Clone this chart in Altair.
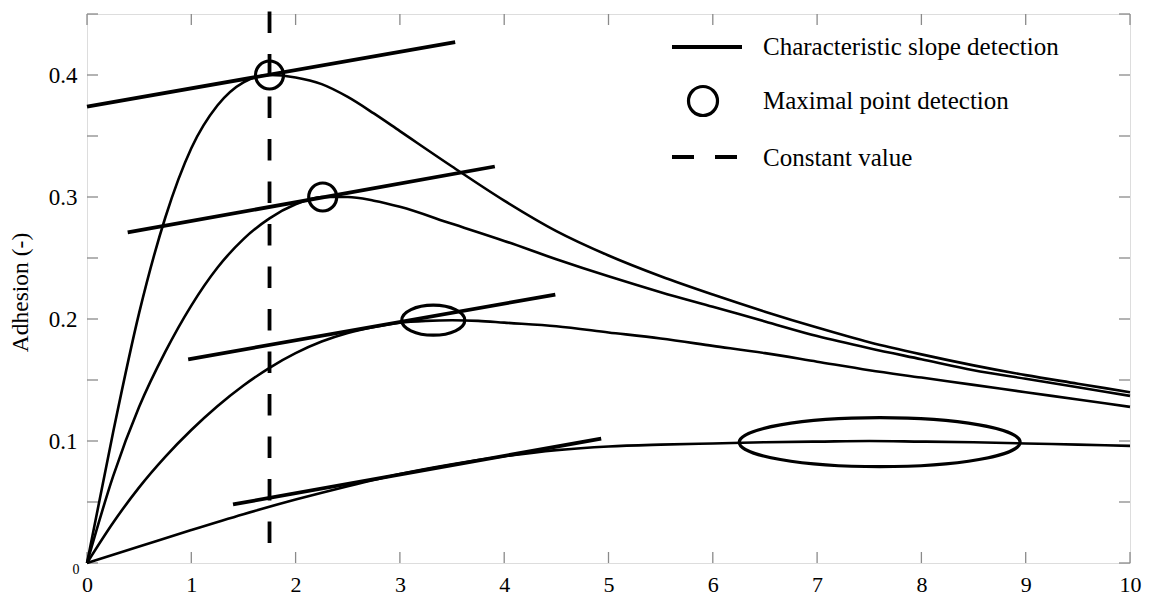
import altair as alt
import pandas as pd

FONT = "Liberation Serif"

# ---- adhesion curves ----
CURVE_A_X = [0, 0.25, 0.5, 0.75, 1.0, 1.25, 1.5, 1.75, 2.0, 2.25, 2.5, 2.75, 3.0, 3.5, 4.0, 4.5, 5.0, 5.5, 6.0, 6.5, 7.0, 7.5, 8.0, 8.5, 9.0, 9.5, 10.0]
CURVE_A_Y = [0, 0.107, 0.205, 0.283, 0.340, 0.375, 0.394, 0.400, 0.398, 0.3925, 0.382, 0.3685, 0.354, 0.325, 0.297, 0.272, 0.252, 0.235, 0.220, 0.206, 0.193, 0.181, 0.171, 0.162, 0.154, 0.147, 0.140]

CURVE_B_X = [0, 0.25, 0.5, 0.75, 1.0, 1.25, 1.5, 1.75, 2.0, 2.25, 2.5, 2.75, 3.0, 3.5, 4.0, 4.5, 5.0, 5.5, 6.0, 6.5, 7.0, 7.5, 8.0, 8.5, 9.0, 9.5, 10.0]
CURVE_B_Y = [0, 0.071, 0.128, 0.173, 0.211, 0.242, 0.2655, 0.2825, 0.294, 0.300, 0.300, 0.297, 0.292, 0.278, 0.264, 0.249, 0.235, 0.222, 0.210, 0.198, 0.186, 0.176, 0.167, 0.158, 0.151, 0.144, 0.137]

CURVE_C_X = [0, 0.25, 0.5, 0.75, 1.0, 1.25, 1.5, 1.75, 2.0, 2.25, 2.5, 2.75, 3.0, 3.25, 3.5, 3.75, 4.0, 4.5, 5.0, 5.5, 6.0, 6.5, 7.0, 7.5, 8.0, 8.5, 9.0, 9.5, 10.0]
CURVE_C_Y = [0, 0.033, 0.062, 0.087, 0.109, 0.1285, 0.1455, 0.160, 0.172, 0.1815, 0.1885, 0.1935, 0.197, 0.1985, 0.199, 0.1985, 0.197, 0.194, 0.189, 0.184, 0.178, 0.172, 0.165, 0.158, 0.152, 0.146, 0.140, 0.134, 0.128]

CURVE_D_X = [0, 0.5, 1.0, 1.5, 2.0, 2.5, 3.0, 3.5, 4.0, 4.5, 5.0, 5.5, 6.0, 6.5, 7.0, 7.5, 8.0, 8.5, 9.0, 9.5, 10.0]
CURVE_D_Y = [0, 0.0135, 0.027, 0.040, 0.052, 0.063, 0.073, 0.081, 0.0875, 0.0925, 0.0955, 0.097, 0.098, 0.099, 0.0995, 0.100, 0.0995, 0.099, 0.098, 0.097, 0.096]

# ---- characteristic slope (tangent) segments ----
TAN_X1 = [0.0, 0.39, 0.97, 1.40]
TAN_Y1 = [0.374, 0.271, 0.167, 0.048]
TAN_X2 = [3.53, 3.91, 4.49, 4.93]
TAN_Y2 = [0.427, 0.325, 0.220, 0.102]

# ---- maximal point detection markers ----
MAX_X = [1.75, 2.26, 3.32, 7.60]
MAX_Y = [0.400, 0.300, 0.199, 0.099]

# ---- constant value ----
CONST_X = 1.75
CONST_Y_FROM = 0.0164
CONST_Y_TO = 0.4533

X_TICKS = list(range(0, 11))
Y_LABEL_TICKS = [0.1, 0.2, 0.3, 0.4]
Y_TICKS = [0, 0.05, 0.1, 0.15, 0.2, 0.25, 0.3, 0.35, 0.4, 0.45]

LEGEND_LABELS = ["Characteristic slope detection", "Maximal point detection", "Constant value"]

# marker sizes in pixels (width, height) - style only
MARKER_PX = [(28, 28), (28, 28), (63, 30), (281, 49)]

W, H = 1043, 549
FRAME = "#8a8a8a"

rows = []
for name, xs_, ys_ in [("A", CURVE_A_X, CURVE_A_Y), ("B", CURVE_B_X, CURVE_B_Y),
                       ("C", CURVE_C_X, CURVE_C_Y), ("D", CURVE_D_X, CURVE_D_Y)]:
    for i, (a, b) in enumerate(zip(xs_, ys_)):
        rows.append({"curve": name, "x": a, "y": b, "o": i})
curves_df = pd.DataFrame(rows)

xs = alt.Scale(domain=[0, 10], nice=False, zero=False)
ys = alt.Scale(domain=[0, 0.45], nice=False, zero=False)

x_axis = alt.Axis(values=X_TICKS, format="d", title=None, grid=False, domain=False,
                  ticks=False, tickSize=0, labelFont=FONT, labelFontSize=22,
                  labelColor="black", labelPadding=11, labelFlush=False)
y_axis = alt.Axis(values=Y_LABEL_TICKS, format=".1f", title="Adhesion (-)", grid=False,
                  domain=False, ticks=False, tickSize=0, labelFont=FONT, labelFontSize=23,
                  labelColor="black", labelPadding=10, labelFlush=False,
                  titleFont=FONT, titleFontSize=23.5, titleFontWeight="normal",
                  titleColor="black", titleX=-67, titleY=278, titleAngle=270,
                  titleAlign="center", titleBaseline="middle")

base_axes = alt.Chart(curves_df).mark_line(
    interpolate="monotone", color="black", strokeWidth=2.6
).encode(
    x=alt.X("x:Q", scale=xs, axis=x_axis),
    y=alt.Y("y:Q", scale=ys, axis=y_axis),
    detail="curve:N",
    order="o:Q",
)

tan_df = pd.DataFrame({"x1": TAN_X1, "y1": TAN_Y1, "x2": TAN_X2, "y2": TAN_Y2})
tangents = alt.Chart(tan_df).mark_rule(color="black", strokeWidth=3.8, strokeCap="butt").encode(
    x=alt.X("x1:Q", scale=xs), y=alt.Y("y1:Q", scale=ys), x2="x2:Q", y2="y2:Q"
)

const_df = pd.DataFrame({"x": [CONST_X], "y1": [CONST_Y_FROM], "y2": [CONST_Y_TO]})
const_line = alt.Chart(const_df).mark_rule(
    color="black", strokeWidth=3.8, strokeDash=[21.5, 21], strokeCap="butt", clip=False
).encode(x=alt.X("x:Q", scale=xs), y=alt.Y("y1:Q", scale=ys), y2="y2:Q")


def ellipse_path(w, h):
    r = h / w
    return f"M-1,0A1,{r:.4f},0,1,1,1,0A1,{r:.4f},0,1,1,-1,0Z"


marker_layers = []
for (mx, my), (w, h) in zip(zip(MAX_X, MAX_Y), MARKER_PX):
    mdf = pd.DataFrame({"x": [mx], "y": [my]})
    marker_layers.append(
        alt.Chart(mdf).mark_point(
            shape=ellipse_path(w, h), size=w * w, filled=False, stroke="black",
            strokeWidth=3.2, opacity=1
        ).encode(x=alt.X("x:Q", scale=xs), y=alt.Y("y:Q", scale=ys))
    )

# ---- inward ticks on all four sides ----
xt = pd.DataFrame({"t": X_TICKS})
yt = pd.DataFrame({"t": Y_TICKS})
tick_style = dict(color=FRAME, strokeWidth=1.3)
ticks = [
    alt.Chart(xt).mark_rule(**tick_style).encode(x=alt.X("t:Q", scale=xs), y=alt.value(H), y2=alt.value(H - 11)),
    alt.Chart(xt).mark_rule(**tick_style).encode(x=alt.X("t:Q", scale=xs), y=alt.value(0), y2=alt.value(11)),
    alt.Chart(yt).mark_rule(**tick_style).encode(y=alt.Y("t:Q", scale=ys), x=alt.value(0), x2=alt.value(11)),
    alt.Chart(yt).mark_rule(**tick_style).encode(y=alt.Y("t:Q", scale=ys), x=alt.value(W), x2=alt.value(W - 11)),
]

# small "0" label of the y axis
zero_lbl = alt.Chart(pd.DataFrame({"x": [0], "y": [0], "t": ["0"]})).mark_text(
    font=FONT, fontSize=14, color="black", dx=-11, dy=7
).encode(x=alt.X("x:Q", scale=xs), y=alt.Y("y:Q", scale=ys), text="t:N")

# ---- hand-made legend ----
one = alt.Data(values=[{"a": 1}])
leg_line = alt.Chart(one).mark_rule(color="black", strokeWidth=3.8, strokeCap="butt").encode(
    x=alt.value(585), x2=alt.value(655), y=alt.value(33), y2=alt.value(33))
leg_circle = alt.Chart(one).mark_point(
    shape=ellipse_path(1, 1), size=29 * 29, filled=False, stroke="black", strokeWidth=3.2, opacity=1
).encode(x=alt.value(616), y=alt.value(87))
leg_dash = alt.Chart(one).mark_rule(color="black", strokeWidth=3.8, strokeDash=[22, 21], strokeCap="butt").encode(
    x=alt.value(585), x2=alt.value(651), y=alt.value(143), y2=alt.value(143))
leg_texts = []
for lbl, py in zip(LEGEND_LABELS, [33, 87, 144]):
    leg_texts.append(
        alt.Chart(alt.Data(values=[{"t": lbl}])).mark_text(
            font=FONT, fontSize=25, color="black", align="left", baseline="middle"
        ).encode(x=alt.value(676), y=alt.value(py), text="t:N")
    )

chart = alt.layer(
    *ticks, base_axes, tangents, const_line, *marker_layers, zero_lbl,
    leg_line, leg_circle, leg_dash, *leg_texts
).properties(
    width=W, height=H,
    autosize=alt.AutoSizeParams(type="none"),
    padding={"left": 79, "top": 6, "right": 13, "bottom": 34},
).configure_view(stroke=FRAME, strokeWidth=1.6).configure(background="white")

chart.save("out.html", embed_options={"renderer": "svg", "actions": False})
